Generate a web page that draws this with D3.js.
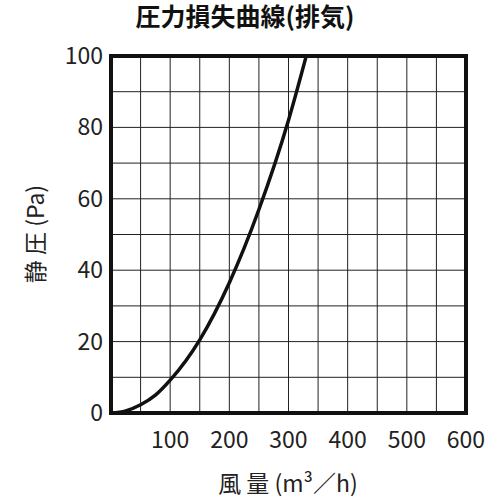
<!DOCTYPE html>
<html><head><meta charset="utf-8">
<script src="https://cdn.jsdelivr.net/npm/d3@7"></script>
<style>body{margin:0;background:#fff}</style>
</head><body><div id="chart"></div>
<script>
const flow = [0, 25, 50, 75, 100, 150, 200, 250, 300, 330];
const pressure = [0, 0.6, 2.3, 5, 9.2, 20.5, 36.5, 57, 82, 100];
const xTickLabels = [100, 200, 300, 400, 500, 600];
const yTickLabels = [0, 20, 40, 60, 80, 100];

const plotLeft = 111, plotRight = 466, plotTop = 56, plotBottom = 413;
const x = d3.scaleLinear().domain([0, 600]).range([plotLeft, plotRight]);
const y = d3.scaleLinear().domain([0, 100]).range([plotBottom, plotTop]);

const svg = d3.select("#chart").append("svg").attr("width", 500).attr("height", 500)
  .style("font-family", "'Noto Sans CJK JP', sans-serif");

// grid
svg.append("g").selectAll("line").data(d3.range(50, 600, 50)).join("line")
  .attr("x1", d => x(d)).attr("x2", d => x(d)).attr("y1", plotTop).attr("y2", plotBottom)
  .attr("stroke", "#222").attr("stroke-width", 1);
svg.append("g").selectAll("line").data(d3.range(10, 100, 10)).join("line")
  .attr("y1", d => y(d)).attr("y2", d => y(d)).attr("x1", plotLeft).attr("x2", plotRight)
  .attr("stroke", "#222").attr("stroke-width", 1);

svg.append("rect").attr("x", plotLeft).attr("y", plotTop)
  .attr("width", plotRight - plotLeft).attr("height", plotBottom - plotTop)
  .attr("fill", "none").attr("stroke", "#111").attr("stroke-width", 4);

// curve
const pts = flow.map((q, i) => [q, pressure[i]]);
svg.append("path").datum(pts)
  .attr("d", d3.line().x(d => x(d[0])).y(d => y(d[1])).curve(d3.curveMonotoneX))
  .attr("fill", "none").attr("stroke", "#111").attr("stroke-width", 3.5);

// tick labels
svg.append("g").selectAll("text").data(xTickLabels).join("text")
  .attr("x", d => x(d)).attr("y", 448).attr("text-anchor", "middle")
  .attr("font-size", 23).attr("fill", "#222").text(d => d);
svg.append("g").selectAll("text").data(yTickLabels).join("text")
  .attr("x", 103).attr("y", d => y(d) + 8).attr("text-anchor", "end")
  .attr("font-size", 23).attr("fill", "#222").text(d => d);

// titles
svg.append("text").attr("x", 245).attr("y", 26).attr("text-anchor", "middle")
  .attr("font-size", 25).attr("font-weight", "bold").attr("fill", "#111").text("圧力損失曲線(排気)");
svg.append("text").attr("x", 288).attr("y", 492).attr("text-anchor", "middle")
  .attr("font-size", 23).attr("fill", "#222").text("風 量 (m³／h)");
svg.append("text").attr("transform", "translate(44,234) rotate(-90)").attr("text-anchor", "middle")
  .attr("font-size", 23).attr("fill", "#222").text("静 圧 (Pa)");
</script></body></html>
